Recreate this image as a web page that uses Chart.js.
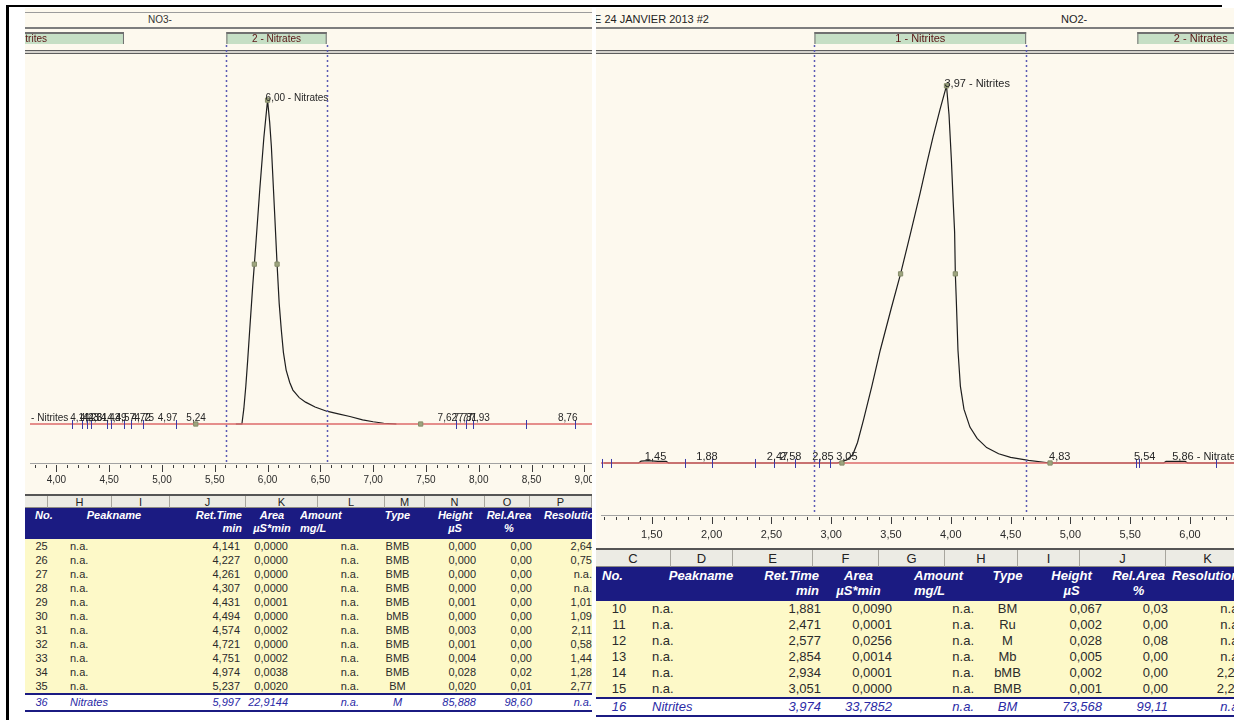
<!DOCTYPE html>
<html>
<head>
<meta charset="utf-8">
<script src="https://cdn.jsdelivr.net/npm/chart.js@4.4.1/dist/chart.umd.min.js"></script>
<style>
  body { margin:0; width:1234px; height:720px; background:#fff; position:relative; overflow:hidden; font-family:"Liberation Sans", Arial, sans-serif; }
  .panel { position:absolute; top:0; height:720px; overflow:hidden; }
  .abs { position:absolute; }
  canvas { position:absolute; }
  table { position:absolute; border-collapse:collapse; table-layout:fixed; }
  td { padding:0; white-space:nowrap; overflow:hidden; }
  .letters { position:absolute; display:flex; background:#ecebe4; }
  .letters div { box-sizing:border-box; text-align:center; color:#222; border-right:1px solid #a8a69e; border-bottom:1px solid #8d8b85; }
  .head td { background:#1b1b82; color:#fff; font-weight:bold; font-style:italic; vertical-align:top; }
  .row td { background:#fdf9c8; color:#2b2b2b; }
  .total td { background:#fff; color:#2a2aa6; font-style:italic; border-top:2px solid #1b1b82; border-bottom:2px solid #1b1b82; }
</style>
</head>
<body>

<div class="abs" style="left:7px;top:5px;width:1215px;height:2px;background:#000"></div>
<div class="abs" style="left:6px;top:5px;width:3px;height:715px;background:#000"></div>

<div class="panel" style="left:25px;width:567px">
  <div class="abs" style="left:0;top:8px;width:567px;height:490px;background:#fdf9ee"></div>
  <div class="abs" style="left:0;top:12px;width:567px;height:1px;background:#9c9c9c"></div>
  <div class="abs" style="left:0;top:27px;width:567px;height:2px;background:#7e7e7e"></div>
  <div class="abs" style="left:123px;top:14px;font-size:10px;color:#333">NO3-</div>
  <canvas id="no3" width="615" height="463" style="left:0;top:30px"></canvas>
  <div class="abs" style="left:0;top:494px;width:567px;height:2px;background:#555"></div>
  <div class="letters" id="no3Letters" style="left:0;top:496px;height:12px;font-size:11px;line-height:12px"></div>
  <table id="no3Table" style="left:0;top:508px;font-size:11px"></table>
</div>

<div class="panel" style="left:596px;width:638px">
  <div class="abs" style="left:0;top:8px;width:638px;height:542px;background:#fdf9ee"></div>
  <div class="abs" style="left:0;top:27px;width:638px;height:2px;background:#7e7e7e"></div>
  <div class="abs" style="left:-2px;top:13px;font-size:11px;color:#222">E 24 JANVIER 2013 #2</div>
  <div class="abs" style="left:465px;top:13px;font-size:11px;color:#222">NO2-</div>
  <canvas id="no2" width="673" height="517" style="left:0;top:30px"></canvas>
  <div class="abs" style="left:0;top:548px;width:638px;height:2px;background:#555"></div>
  <div class="letters" id="no2Letters" style="left:0;top:550px;height:17px;font-size:13px;line-height:17px"></div>
  <table id="no2Table" style="left:0;top:567px;font-size:13px"></table>
</div>

<script>
// ---- NO3- chromatogram (left) ----
const no3Time = [5.70, 5.757, 5.775, 5.794, 5.812, 5.831, 5.859, 5.875, 5.90, 5.927, 5.965, 6.00, 6.02, 6.036, 6.067, 6.09, 6.11, 6.13, 6.15, 6.176, 6.21, 6.24, 6.30, 6.36, 6.45, 6.56, 6.67, 6.78, 6.90, 7.00, 7.10, 7.22];
const no3Signal = [0, 0, 4, 10, 17, 25, 36.5, 42.4, 52, 62.5, 76, 85.9, 80, 73.6, 55.9, 42.4, 32, 25, 19, 14.3, 11, 9, 7, 5.8, 4.5, 3.4, 2.7, 2.0, 1.1, 0.6, 0.2, 0];
const no3MarkTime = [5.32, 5.875, 6.00, 6.09, 7.45];
const no3MarkValue = [0, 42.4, 85.9, 42.4, 0];
const no3PeakLabels = ['- Nitrites', '4,14', '4,23', '4,26', '4,31', '4,43', '4,49', '4,57', '4,72', '4,75', '4,97', '5,24', '7,62', '7,77', '7,81', '7,93', '8,76'];
const no3PeakLabelTime = [3.77, 4.14, 4.23, 4.26, 4.31, 4.43, 4.49, 4.57, 4.72, 4.75, 4.97, 5.24, 7.62, 7.77, 7.81, 7.93, 8.76];
const no3TickTime = [4.15, 4.24, 4.29, 4.33, 4.48, 4.52, 4.64, 4.71, 4.82, 5.13, 7.78, 7.88, 7.95, 8.45, 8.91];

// ---- NO2- chromatogram (right) ----
const no2Time = [1.10, 1.39, 1.41, 1.47, 1.55, 1.62, 1.64, 3.05, 3.13, 3.18, 3.22, 3.27, 3.34, 3.41, 3.50, 3.58, 3.66, 3.744, 3.80, 3.851, 3.91, 3.964, 3.985, 4.005, 4.02, 4.032, 4.038, 4.046, 4.06, 4.08, 4.11, 4.16, 4.22, 4.30, 4.40, 4.50, 4.65, 4.83, 5.78, 5.80, 5.96, 5.98, 6.60];
const no2Signal = [0, 0, 0.35, 0.45, 0.3, 0.3, 0, 0, 0.6, 1.6, 4, 8.4, 15, 22, 30, 36.9, 44.5, 52.7, 58.5, 63.6, 69, 73.6, 68, 59.1, 51, 45, 36.9, 31.8, 22, 15, 10.5, 7, 4.8, 3, 1.8, 1.1, 0.5, 0, 0, 0.3, 0.3, 0, 0];
const no2MarkTime = [3.09, 3.58, 3.964, 4.038, 4.83];
const no2MarkValue = [0, 36.9, 73.6, 36.9, 0];
const no2PeakLabels = ['1,45', '1,88', '2,47', '2,58', '2,85', '3,05', '4,83', '5,54', '5,86 - Nitrates'];
const no2PeakLabelTime = [1.45, 1.88, 2.47, 2.58, 2.85, 3.05, 4.83, 5.54, 5.86];
const no2TickTime = [1.08, 1.155, 1.775, 2.006, 2.36, 2.52, 2.70, 2.895, 2.99, 5.55, 5.57, 6.22];

// ---- tables ----
const heads = ['No.', 'Peakname', 'Ret.Time<br>min', 'Area<br>µS*min', 'Amount<br>mg/L', 'Type', 'Height<br>µS', 'Rel.Area<br>%', 'Resolution'];
const no3Letters = ['', 'H', 'I', 'J', 'K', 'L', 'M', 'N', 'O', 'P'];
const no3Rows = [
  ['25', 'n.a.', '4,141', '0,0000', 'n.a.', 'BMB', '0,000', '0,00', '2,64'],
  ['26', 'n.a.', '4,227', '0,0000', 'n.a.', 'BMB', '0,000', '0,00', '0,75'],
  ['27', 'n.a.', '4,261', '0,0000', 'n.a.', 'BMB', '0,000', '0,00', 'n.a.'],
  ['28', 'n.a.', '4,307', '0,0000', 'n.a.', 'BMB', '0,000', '0,00', 'n.a.'],
  ['29', 'n.a.', '4,431', '0,0001', 'n.a.', 'BMB', '0,001', '0,00', '1,01'],
  ['30', 'n.a.', '4,494', '0,0000', 'n.a.', 'bMB', '0,000', '0,00', '1,09'],
  ['31', 'n.a.', '4,574', '0,0002', 'n.a.', 'BMB', '0,003', '0,00', '2,11'],
  ['32', 'n.a.', '4,721', '0,0000', 'n.a.', 'BMB', '0,001', '0,00', '0,58'],
  ['33', 'n.a.', '4,751', '0,0002', 'n.a.', 'BMB', '0,004', '0,00', '1,44'],
  ['34', 'n.a.', '4,974', '0,0038', 'n.a.', 'BMB', '0,028', '0,02', '1,28'],
  ['35', 'n.a.', '5,237', '0,0020', 'n.a.', 'BM', '0,020', '0,01', '2,77']
];
const no3Total = ['36', 'Nitrates', '5,997', '22,9144', 'n.a.', 'M', '85,888', '98,60', 'n.a.'];
const no2Letters = ['C', 'D', 'E', 'F', 'G', 'H', 'I', 'J', 'K'];
const no2Rows = [
  ['10', 'n.a.', '1,881', '0,0090', 'n.a.', 'BM', '0,067', '0,03', 'n.a.'],
  ['11', 'n.a.', '2,471', '0,0001', 'n.a.', 'Ru', '0,002', '0,00', 'n.a.'],
  ['12', 'n.a.', '2,577', '0,0256', 'n.a.', 'M', '0,028', '0,08', 'n.a.'],
  ['13', 'n.a.', '2,854', '0,0014', 'n.a.', 'Mb', '0,005', '0,00', 'n.a.'],
  ['14', 'n.a.', '2,934', '0,0001', 'n.a.', 'bMB', '0,002', '0,00', '2,23'],
  ['15', 'n.a.', '3,051', '0,0000', 'n.a.', 'BMB', '0,001', '0,00', '2,23']
];
const no2Total = ['16', 'Nitrites', '3,974', '33,7852', 'n.a.', 'BM', '73,568', '99,11', 'n.a.'];

const isHalf = v => Math.abs(v * 2 - Math.round(v * 2)) < 1e-6;
const fmt = (v, d) => v.toFixed(d).replace('.', ',');

function tenthTicks(scale) {
  const out = [];
  for (let i = Math.ceil(scale.min * 10 - 1e-6); i <= Math.floor(scale.max * 10 + 1e-6); i++) out.push({ value: i / 10 });
  scale.ticks = out;
}

function chromPlugin(cfg) {
  return {
    id: 'chrom_' + cfg.id,
    beforeDraw(chart) {
      const ctx = chart.ctx;
      ctx.save();
      ctx.fillStyle = '#fdf9ee';
      ctx.fillRect(0, 0, chart.width, chart.height);
      ctx.restore();
    },
    afterDatasetsDraw(chart) {
      const { ctx, scales: { x, y } } = chart;
      const y0 = y.getPixelForValue(0);
      ctx.save();
      ctx.strokeStyle = '#3a3aa8';
      ctx.lineWidth = 1;
      cfg.tickTime.forEach(t => {
        const px = Math.round(x.getPixelForValue(t)) + 0.5;
        ctx.beginPath(); ctx.moveTo(px, y0 - 4); ctx.lineTo(px, y0 + 5); ctx.stroke();
      });
      ctx.fillStyle = '#262626';
      ctx.font = cfg.fs + 'px "Liberation Sans"';
      ctx.textAlign = 'left';
      ctx.textBaseline = 'alphabetic';
      cfg.labelTime.forEach((t, i) => ctx.fillText(cfg.labels[i], x.getPixelForValue(t) - 1, y0 - 3));
      ctx.fillText(cfg.apexText, x.getPixelForValue(cfg.apexT) - 2, y.getPixelForValue(cfg.apexV) + 1);
      ctx.restore();
    },
    afterDraw(chart) {
      const { ctx, chartArea: a, scales: { x } } = chart;
      ctx.save();
      // double rule below the window bar
      ctx.fillStyle = '#d4d2cc';
      ctx.fillRect(0, a.top - 2, chart.width, 2);
      ctx.fillStyle = '#5e5e5e';
      ctx.fillRect(0, a.top - 3, chart.width, 1);
      ctx.fillRect(0, a.top, chart.width, 1);
      // integration windows
      cfg.windows.forEach(w => {
        const x1 = x.getPixelForValue(w.start), x2 = x.getPixelForValue(w.end);
        const t = a.top - 21, b = a.top - 9;
        ctx.fillStyle = '#c6dfc5';
        ctx.fillRect(x1, t, x2 - x1, b - t);
        ctx.fillStyle = '#707070';
        ctx.fillRect(x1, t, x2 - x1, 2);
        ctx.fillRect(x1, t, 1, b - t);
        ctx.fillRect(x2 - 1, t, 1, b - t);
        ctx.fillStyle = '#5a1515';
        ctx.font = cfg.fs + 'px "Liberation Sans"';
        ctx.textAlign = 'center';
        ctx.textBaseline = 'middle';
        ctx.fillText(w.name, (x1 + x2) / 2, (t + b) / 2 + 1);
        if (w.active) {
          ctx.strokeStyle = '#5a5ab4';
          ctx.lineWidth = 1.5;
          ctx.setLineDash([2, 3]);
          [x1, x2].forEach(px => {
            ctx.beginPath(); ctx.moveTo(Math.round(px) + 0.5, b + 1); ctx.lineTo(Math.round(px) + 0.5, a.bottom); ctx.stroke();
          });
          ctx.setLineDash([]);
        }
      });
      // axis tick marks
      ctx.strokeStyle = '#3c3c3c';
      ctx.lineWidth = 1;
      x.ticks.forEach(tk => {
        const px = Math.round(x.getPixelForValue(tk.value)) + 0.5;
        ctx.beginPath(); ctx.moveTo(px, a.bottom + 2); ctx.lineTo(px, a.bottom + (isHalf(tk.value) ? 9 : 5)); ctx.stroke();
      });
      ctx.restore();
    }
  };
}

function chromChart(cfg) {
  return new Chart(document.getElementById(cfg.id), {
    type: 'scatter',
    data: {
      datasets: [
        { data: cfg.markTime.map((t, i) => ({ x: t, y: cfg.markValue[i] })), pointStyle: 'rect', pointRadius: 3,
          backgroundColor: '#9ea57e', borderColor: '#868d6a', borderWidth: 1, showLine: false, order: 0 },
        { data: [{ x: cfg.min, y: 0 }, { x: cfg.max, y: 0 }], showLine: true, borderColor: '#dc6a6a',
          borderWidth: 1.5, pointRadius: 0, order: 1 },
        { data: cfg.time.map((t, i) => ({ x: t, y: cfg.signal[i] })), showLine: true, borderColor: '#1e1e1e',
          borderWidth: 1.2, pointRadius: 0, tension: 0, order: 2 }
      ]
    },
    options: {
      responsive: false,
      animation: false,
      events: [],
      layout: { padding: { top: 23, left: 0, right: 0, bottom: 0 } },
      plugins: { legend: { display: false }, tooltip: { enabled: false } },
      scales: {
        x: {
          type: 'linear', min: cfg.min, max: cfg.max,
          afterBuildTicks: tenthTicks,
          afterFit: s => { s.height = cfg.axisH; },
          // invisible tick marks only push the labels down; the visible ones are drawn by the plugin
          grid: { drawOnChartArea: false, drawTicks: true, tickLength: cfg.labelGap, tickColor: 'rgba(0,0,0,0)' },
          border: { display: true, color: '#a2a2a2', width: 1 },
          ticks: { autoSkip: false, maxRotation: 0, minRotation: 0, padding: 0, color: '#2b2b2b',
                   font: { family: 'Liberation Sans', size: cfg.fs },
                   callback: v => isHalf(v) ? fmt(v, 2) : '' }
        },
        y: { display: false, min: cfg.ymin, max: cfg.ymax }
      }
    },
    plugins: [chromPlugin(cfg)]
  });
}

chromChart({
  id: 'no3', min: 3.75, max: 9.48, ymin: -10.34, ymax: 98.4, axisH: 30, labelGap: 11, fs: 10,
  time: no3Time, signal: no3Signal, markTime: no3MarkTime, markValue: no3MarkValue,
  labels: no3PeakLabels, labelTime: no3PeakLabelTime, tickTime: no3TickTime,
  apexText: '6,00 - Nitrates', apexT: 6.00, apexV: 85.9,
  windows: [{ name: '1 - Nitrites', start: 2.75, end: 4.64 }, { name: '2 - Nitrates', start: 5.61, end: 6.56, active: true }]
});

chromChart({
  id: 'no2', min: 1.075, max: 6.619, ymin: -10.15, ymax: 80.0, axisH: 32, labelGap: 13, fs: 11,
  time: no2Time, signal: no2Signal, markTime: no2MarkTime, markValue: no2MarkValue,
  labels: no2PeakLabels, labelTime: no2PeakLabelTime, tickTime: no2TickTime,
  apexText: '3,97 - Nitrites', apexT: 3.964, apexV: 73.6,
  windows: [{ name: '1 - Nitrites', start: 2.86, end: 4.63, active: true }, { name: '2 - Nitrates', start: 5.56, end: 6.62 }]
});

// ---- peak tables ----
function cellStyle(a) {
  if (a === 'c') return 'text-align:center';
  const side = a[0] === 'l' ? 'left' : 'right';
  return 'text-align:' + side + ';padding-' + side + ':' + a.slice(1) + 'px';
}

function buildLetters(id, letters, widths) {
  document.getElementById(id).innerHTML = letters.map((l, i) => `<div style="width:${widths[i]}px">${l}</div>`).join('');
}

function buildTable(id, s) {
  let h = '<colgroup>' + s.widths.map(w => `<col style="width:${w}px">`).join('') + '</colgroup>';
  h += `<tr class="head" style="height:${s.headH}px;line-height:${s.headLH}px">` +
       heads.map((t, i) => `<td style="${cellStyle(s.headAlign[i])};padding-top:1px">${t}</td>`).join('') + '</tr>';
  s.rows.forEach(r => {
    h += `<tr class="row" style="height:${s.rowH}px;line-height:${s.rowH}px">` +
         r.map((t, i) => `<td style="${cellStyle(s.align[i])}">${t}</td>`).join('') + '</tr>';
  });
  h += `<tr class="total" style="height:${s.totalH}px;line-height:${s.totalH}px">` +
       s.total.map((t, i) => `<td style="${cellStyle(s.align[i])}">${t}</td>`).join('') + '</tr>';
  const el = document.getElementById(id);
  el.style.width = s.widths.reduce((p, c) => p + c, 0) + 'px';
  el.innerHTML = h;
}

buildLetters('no3Letters', no3Letters, [23, 64, 58, 76, 72, 67, 40, 60, 45, 62, 30]);
buildTable('no3Table', {
  widths: [33, 112, 74, 56, 65, 65, 50, 58, 62],
  headAlign: ['l10', 'c', 'r2', 'c', 'l0', 'c', 'c', 'c', 'l6'],
  align: ['c', 'l12', 'r4', 'r12', 'r6', 'c', 'r4', 'r6', 'r8'],
  headH: 31, headLH: 13, rowH: 14, totalH: 15, rows: no3Rows, total: no3Total
});

buildLetters('no2Letters', no2Letters, [75, 62, 80, 66, 66, 73, 62, 86, 84]);
buildTable('no2Table', {
  widths: [46, 118, 62, 73, 82, 61, 67, 67, 78],
  headAlign: ['l6', 'c', 'r3', 'c', 'l19', 'c', 'c', 'c', 'l0'],
  align: ['c', 'l10', 'r1', 'r3', 'r3', 'c', 'r3', 'r4', 'r8'],
  headH: 34, headLH: 15, rowH: 16, totalH: 16, rows: no2Rows, total: no2Total
});
</script>
</body>
</html>
